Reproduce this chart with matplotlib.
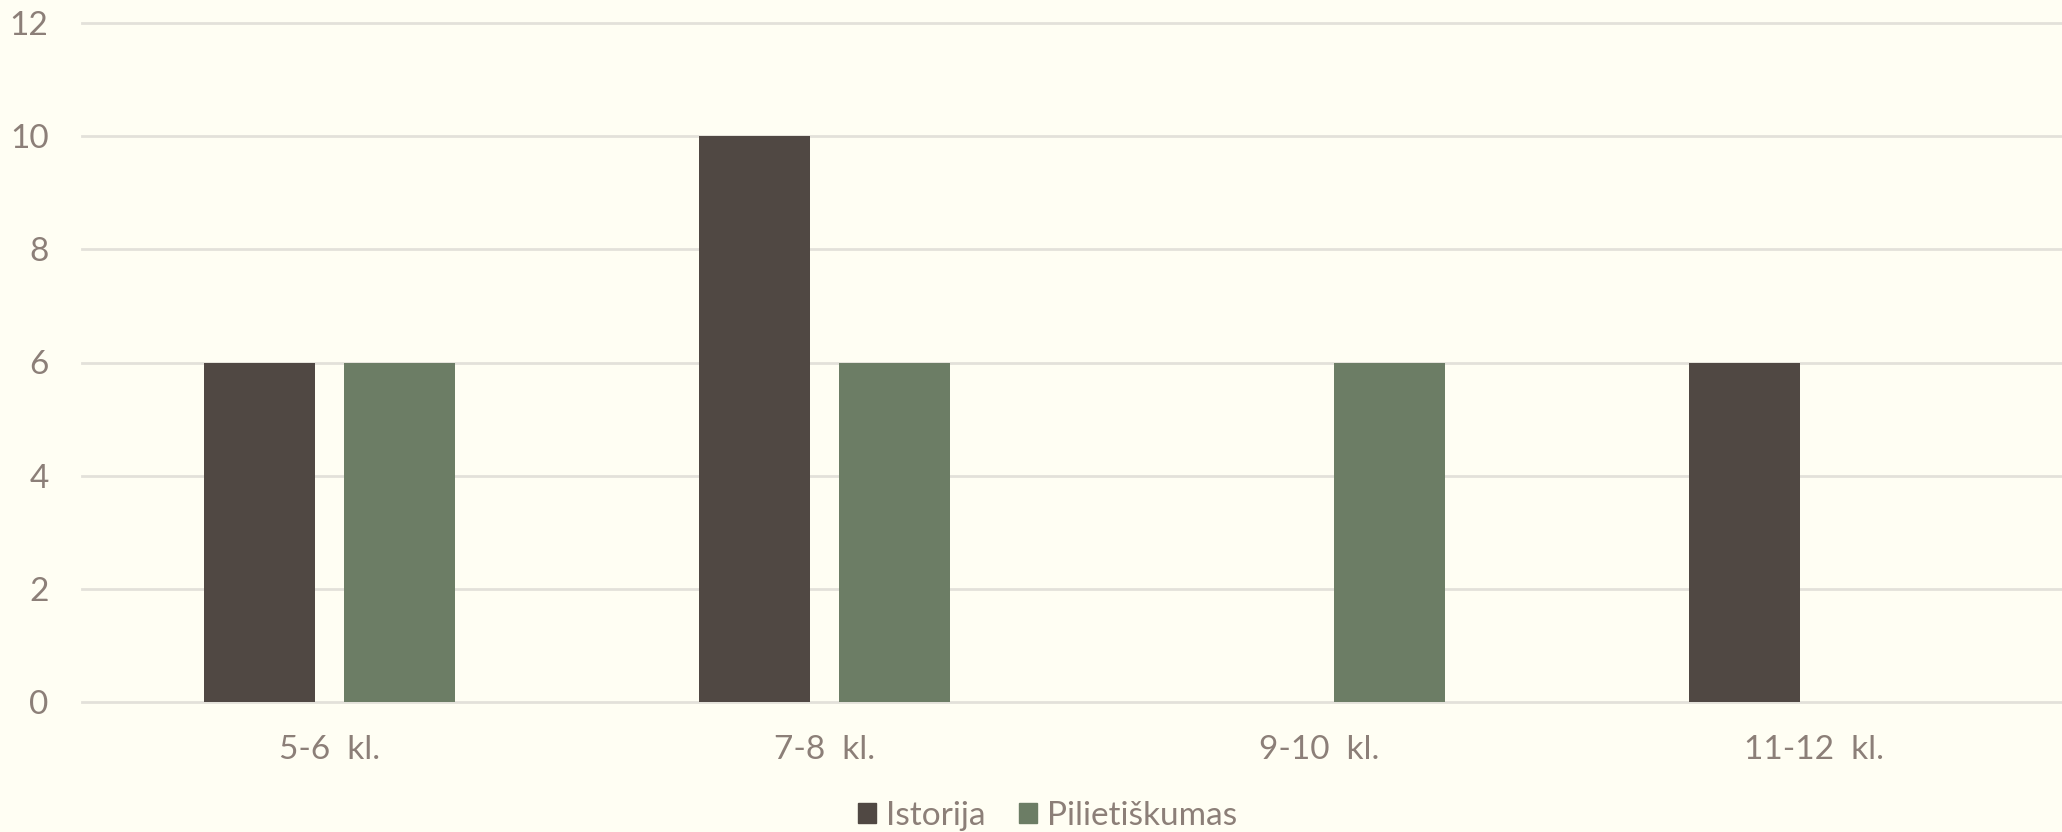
import numpy as np
import matplotlib.pyplot as plt
from matplotlib.patches import Patch

categories = ["5-6  kl.", "7-8  kl.", "9-10  kl.", "11-12  kl."]
istorija = [6, 10, 0, 6]
pilietiskumas = [6, 6, 6, 0]
series_names = ["Istorija", "Pilietiškumas"]

bg = "#FFFEF3"
dark = "#504843"
green = "#6C7D65"
text_col = "#8C7F78"
grid_col = "#E3E1DA"

plt.rcParams["font.family"] = ["Lato", "DejaVu Sans"]

fig = plt.figure(figsize=(20.62, 8.32), dpi=100, facecolor=bg)
ax = fig.add_axes([82 / 2062, (832 - 702) / 832, (2062 - 82) / 2062, (702 - 23) / 832])
ax.set_facecolor(bg)

x = np.arange(len(categories))
w = 0.224
off = 0.142
ax.bar(x - off, istorija, w, color=dark, linewidth=0, zorder=3)
ax.bar(x + off, pilietiskumas, w, color=green, linewidth=0, zorder=3)

ax.set_xlim(-0.5, len(categories) - 0.5)
ax.set_ylim(0, 12)
ax.set_yticks(np.arange(0, 13, 2))
ax.set_xticks(x)
ax.set_xticklabels(categories)
ax.yaxis.grid(True, color=grid_col, linewidth=2)
ax.set_axisbelow(True)
for s in ax.spines.values():
    s.set_visible(False)
ax.tick_params(axis="both", length=0, labelsize=24, labelcolor=text_col)
ax.tick_params(axis="y", pad=24)
ax.tick_params(axis="x", pad=24)
for gl in ax.get_ygridlines():
    gl.set_clip_on(False)

handles = [Patch(color=dark), Patch(color=green)]
fig.legend(handles, series_names, loc="lower center", bbox_to_anchor=(0.508, -0.035),
           ncol=2, frameon=False, fontsize=24, labelcolor=text_col,
           handlelength=0.55, handleheight=0.55, handletextpad=0.3, columnspacing=1.0)

fig.savefig("out.png", dpi=100, facecolor=bg)
